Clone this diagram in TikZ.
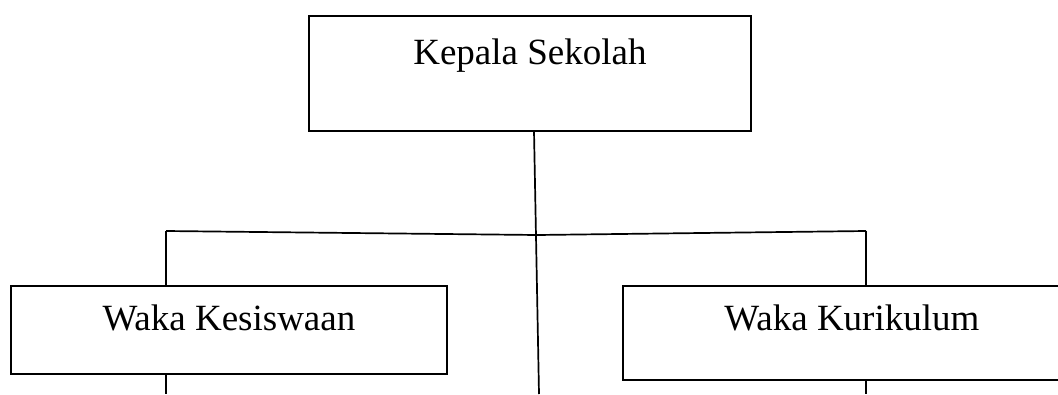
\documentclass[tikz,border=0pt]{standalone}
\usepackage{fontspec}
\setmainfont{Liberation Serif}
\begin{document}
\begin{tikzpicture}[x=1pt,y=-1pt,
  orgbox/.style={draw,line width=1.9pt,rectangle,inner sep=0pt,
    anchor=north west,font=\fontsize{37}{40}\selectfont},
  link/.style={line width=1.7pt}]
\useasboundingbox (0,0) rectangle (1058,394);

% boxes: text height/depth place the baseline inside each box
\node[orgbox,minimum width=442pt,text height=49pt,text depth=66pt] (kepala) at (308,15) {Kepala Sekolah};
\node[orgbox,minimum width=436pt,text height=45pt,text depth=43pt] (kesiswaan) at (10,285) {Waka Kesiswaan};
% this box runs past the right edge of the page
\node[orgbox,minimum width=458pt,text height=45pt,text depth=49pt] (kurikulum) at (622,285) {Waka Kurikulum};

% branching points and loose ends
\coordinate (mid) at (537,235);
\coordinate (left) at (166,231);
\coordinate (right) at (866,231);
\coordinate (kepalaout) at (534,131);
\coordinate (downmid) at (539,394);
\coordinate (downleft) at (166,394);
\coordinate (downright) at (866,394);

\draw[link] (kepalaout) -- (downmid);
\draw[link] (left) -- (mid) -- (right);
\draw[link] (left) -- (left |- kesiswaan.north);
\draw[link] (right) -- (right |- kurikulum.north);
\draw[link] (downleft |- kesiswaan.south) -- (downleft);
\draw[link] (downright |- kurikulum.south) -- (downright);
\end{tikzpicture}
\end{document}
